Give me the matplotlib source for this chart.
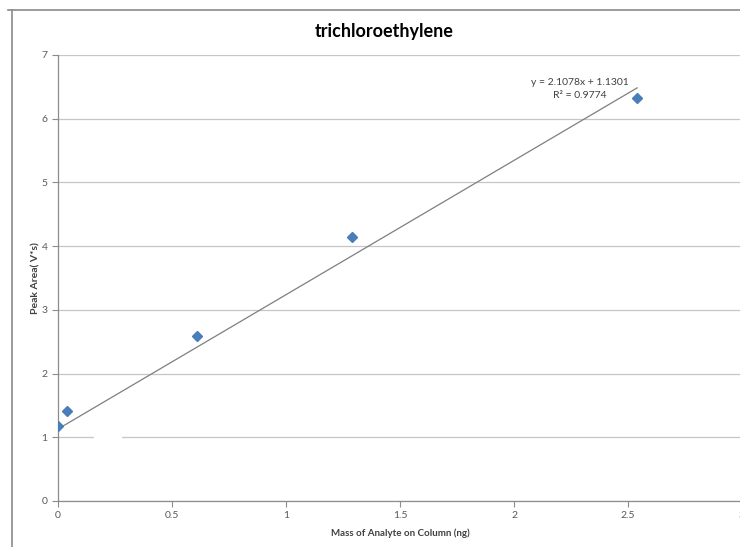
import matplotlib
matplotlib.use("Agg")
import matplotlib.pyplot as plt
from matplotlib.lines import Line2D
from matplotlib.patches import Rectangle
import numpy as np

plt.rcParams['font.family'] = ['Lato', 'DejaVu Sans']

# calibration data
mass_ng = [0.0, 0.04, 0.61, 1.29, 2.54]
peak_area = [1.17, 1.41, 2.59, 4.15, 6.33]

slope = 2.1078
intercept = 1.1301
r_squared = 0.9774

x_ticks = [0, 0.5, 1, 1.5, 2, 2.5, 3]
y_ticks = [0, 1, 2, 3, 4, 5, 6, 7]

W, H = 740, 547
fig = plt.figure(figsize=(W / 100, H / 100), dpi=100)
ax = fig.add_axes([58 / W, 46 / H, 684 / W, 446 / H])

ax.set_xlim(0, 3)
ax.set_ylim(0, 7)

grid_c = '#c6c6c6'
axis_c = '#8c8c8c'
ax.set_yticks(y_ticks)
ax.set_xticks(x_ticks)
ax.set_xticklabels([str(t) for t in x_ticks])
ax.yaxis.grid(True, color=grid_c, linewidth=0.9)
ax.set_axisbelow(True)
for s in ['top', 'right']:
    ax.spines[s].set_visible(False)
for s in ['left', 'bottom']:
    ax.spines[s].set_color(axis_c)
    ax.spines[s].set_linewidth(0.9)
ax.tick_params(axis='both', colors=axis_c, labelcolor='#595959', labelsize=7.5,
               length=4, width=0.8)

# gap in the y=1 gridline
ax.add_patch(Rectangle((0.16, 0.96), 0.12, 0.08, facecolor='white', edgecolor='none', zorder=1.5))

# trendline
tx = np.array([0, max(mass_ng)])
ax.plot(tx, slope * tx + intercept, color='#7f7f7f', linewidth=0.9, zorder=2)

ax.plot(mass_ng, peak_area, linestyle='none', marker='D', markersize=5,
        color='#4a7ebb', markeredgecolor='#4a7ebb', zorder=3)

ax.text(2.29, 6.3, f"y = {slope}x + {intercept}\nR² = {r_squared}",
        ha='center', va='bottom', fontsize=7.5, color='#404040', linespacing=1.45)

ax.set_xlabel('Mass of Analyte on Column (ng)', fontsize=7, fontweight='bold', color='#404040', labelpad=6)
ax.set_ylabel('Peak Area( V*s)', fontsize=7.5, fontweight='bold', color='#404040', labelpad=1)

fig.text(384 / W, 1 - 31 / H, 'trichloroethylene', ha='center', va='center',
         fontsize=13, fontweight='bold', color='#000000')

# chart area border
border_c = '#8a8a8a'
fig.add_artist(Line2D([12 / W, 12 / W], [0, 1 - 10 / H], transform=fig.transFigure, color=border_c, linewidth=1.2))
fig.add_artist(Line2D([8 / W, 1], [1 - 10 / H, 1 - 10 / H], transform=fig.transFigure, color=border_c, linewidth=1.2))

fig.savefig('out.png', dpi=100)
